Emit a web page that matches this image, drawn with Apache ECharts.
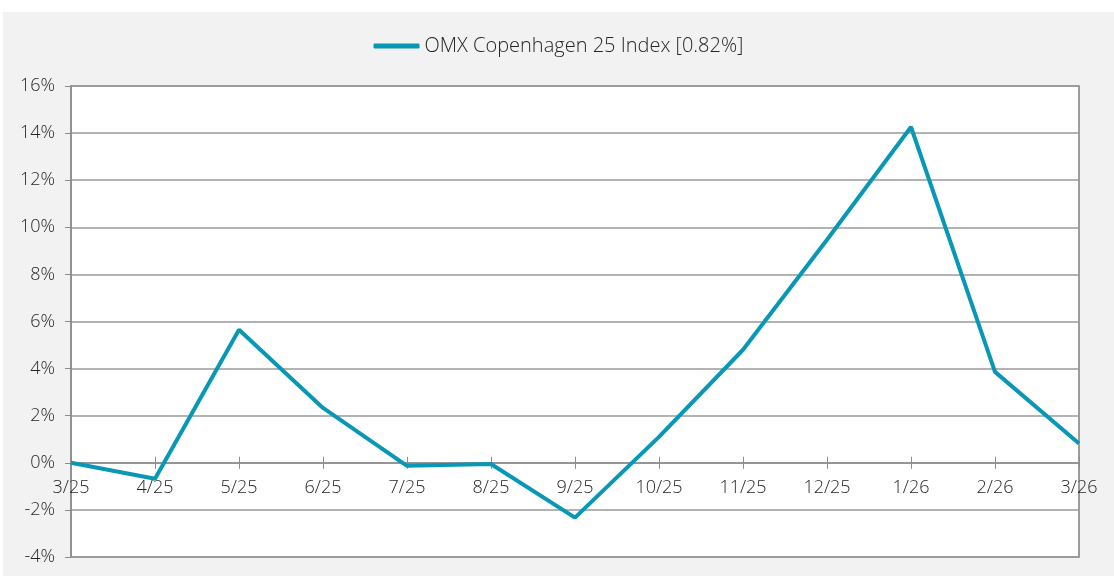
<!DOCTYPE html>
<html>
<head>
<meta charset="utf-8">
<script src="https://cdn.jsdelivr.net/npm/echarts@6/dist/echarts.min.js"></script>
<style>
  html, body { margin: 0; padding: 0; background: #fff; }
  #chart { position: absolute; left: 3px; top: 12px; width: 1111px; height: 564px; background: #f2f2f2; }
</style>
</head>
<body>
<div id="chart"></div>
<script>
// monthly points, cumulative return in %
const months = ['3/25', '4/25', '5/25', '6/25', '7/25', '8/25', '9/25', '10/25', '11/25', '12/25', '1/26', '2/26', '3/26']
const omxValues = [0, -0.68, 5.65, 2.33, -0.13, -0.05, -2.33, 1.1, 4.8, 9.47, 14.26, 3.86, 0.82]
const seriesName = 'OMX Copenhagen 25 Index [0.82%]'

const yMin = -4, yMax = 16, yStep = 2

const font = '"Open Sans", Arial, sans-serif'
const textColor = '#262626'
const lineColor = '#0898b5'
const gridGray = '#8c8c8c'
const chartH = 564
const gridBox = { left: 68, right: 35, top: 74, bottom: 19, containLabel: false, outerBoundsMode: 'none' }

// labels break onZero, so the label axis sits in a grid whose bottom edge is the zero line
const plotH = chartH - gridBox.top - gridBox.bottom
const zeroBottom = chartH - gridBox.top - plotH * yMax / (yMax - yMin)

// grid 0 = plot, grid 1 = lower tick half + labels, grid 2 = upper tick half
const grids = [
  Object.assign({ show: true, backgroundColor: '#fff', borderColor: '#7f7f7f', borderWidth: 1.5 }, gridBox),
  Object.assign({}, gridBox, { show: false, bottom: zeroBottom }),
  Object.assign({ show: false }, gridBox)
]

const chart = echarts.init(document.getElementById('chart'))
chart.setOption({
  animation: false,
  legend: {
    top: 19,
    left: 'center',
    itemWidth: 46,
    itemHeight: 5,
    itemGap: 4,
    icon: 'roundRect',
    textStyle: { fontFamily: font, fontWeight: 300, fontSize: 20, color: textColor },
    data: [seriesName]
  },
  grid: grids,
  xAxis: [{
    type: 'category',
    gridIndex: 0,
    data: months,
    boundaryGap: false,
    show: false
  }, {
    type: 'category',
    gridIndex: 1,
    data: months,
    boundaryGap: false,
    axisLine: { show: true, lineStyle: { color: gridGray, width: 1.5 } },
    axisTick: { show: true, length: 6, lineStyle: { color: gridGray } },
    axisLabel: { margin: 16, fontFamily: font, fontWeight: 300, fontSize: 18, color: textColor }
  }, {
    type: 'category',
    gridIndex: 2,
    data: months,
    boundaryGap: false,
    position: 'top',
    axisLine: { onZero: true, show: false },
    axisTick: { show: true, length: 6, lineStyle: { color: gridGray } },
    axisLabel: { show: false }
  }],
  yAxis: [{
    type: 'value',
    gridIndex: 0,
    min: yMin, max: yMax, interval: yStep,
    axisLine: { show: true, lineStyle: { color: gridGray, width: 1.5 } },
    axisTick: { show: true, length: 6, lineStyle: { color: gridGray } },
    axisLabel: { margin: 16, formatter: '{value}%', fontFamily: font, fontWeight: 300, fontSize: 18, color: textColor },
    splitLine: { lineStyle: { color: '#9a9a9a', width: 1.5 } }
  }, {
    type: 'value', gridIndex: 1, min: 0, max: yMax, show: false
  }, {
    type: 'value', gridIndex: 2, min: yMin, max: yMax, interval: yStep, show: false
  }],
  series: [{
    name: seriesName,
    type: 'line',
    xAxisIndex: 0,
    yAxisIndex: 0,
    data: omxValues,
    symbol: 'none',
    lineStyle: { color: lineColor, width: 4 },
    itemStyle: { color: lineColor }
  }]
})
</script>
</body>
</html>
